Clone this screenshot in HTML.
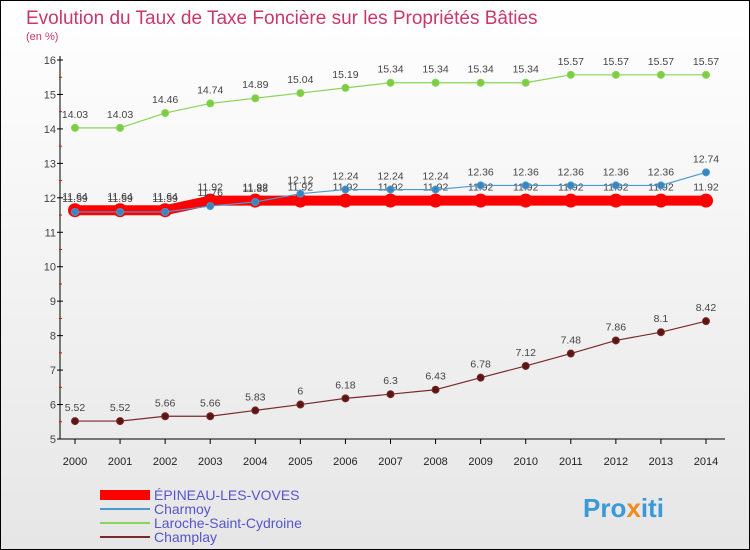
<!DOCTYPE html>
<html><head><meta charset="utf-8"><style>
body{margin:0}
svg{display:block;font-family:"Liberation Sans",sans-serif}
</style></head><body>
<svg width="750" height="550" viewBox="0 0 750 550" id="chart">
<defs><linearGradient id="bg" x1="0" y1="0" x2="0" y2="1"><stop offset="0" stop-color="#ffffff"/><stop offset="1" stop-color="#e6e6e6"/></linearGradient></defs>
<rect x="0.5" y="0.5" width="749" height="549" fill="url(#bg)" stroke="#000"/>
<text x="26" y="24" font-size="19" fill="#c8386b">Evolution du Taux de Taxe Foncière sur les Propriétés Bâties</text>
<text x="26" y="40" font-size="11" fill="#c8386b">(en %)</text>
<g id="axes"></g>
<g id="series"></g>
<g id="legend"></g>
<text x="583" y="517" font-size="26" font-weight="bold" fill="#3a9ad9">Pro<tspan fill="#f08a1c">x</tspan>iti</text>
</svg>
<script>
const years=[2000,2001,2002,2003,2004,2005,2006,2007,2008,2009,2010,2011,2012,2013,2014];
const yTicks=[5,6,7,8,9,10,11,12,13,14,15,16];
const epineau=[11.64,11.64,11.64,11.92,11.92,11.92,11.92,11.92,11.92,11.92,11.92,11.92,11.92,11.92,11.92];
const charmoy=[11.59,11.59,11.59,11.76,11.88,12.12,12.24,12.24,12.24,12.36,12.36,12.36,12.36,12.36,12.74];
const laroche=[14.03,14.03,14.46,14.74,14.89,15.04,15.19,15.34,15.34,15.34,15.34,15.57,15.57,15.57,15.57];
const champlay=[5.52,5.52,5.66,5.66,5.83,6,6.18,6.3,6.43,6.78,7.12,7.48,7.86,8.1,8.42];
const NS="http://www.w3.org/2000/svg";
const X=i=>75+i*(706-75)/14;
const Y=v=>439-(v-5)*(439-60)/11;
function el(p,t,a){const e=document.createElementNS(NS,t);for(const k in a)e.setAttribute(k,a[k]);p.appendChild(e);return e;}
const ax=document.getElementById('axes');
const yl=el(ax,'line',{x1:60,y1:56,x2:60,y2:439,stroke:'#000'});


const xl=el(ax,'line',{x1:60,y1:439,x2:725,y2:439,stroke:'#000'});


yTicks.forEach(v=>{
 el(ax,'line',{x1:57,y1:Y(v),x2:63,y2:Y(v),stroke:'#000'});
 if(v<16)el(ax,'line',{x1:59,y1:Y(v+0.5),x2:62,y2:Y(v+0.5),stroke:'#e00'});
 const t=el(ax,'text',{x:56,y:Y(v)+4,'font-size':11,'text-anchor':'end',fill:'#444'});
 t.textContent=v;
 
 
});
years.forEach((y,i)=>{
 el(ax,'line',{x1:X(i),y1:439,x2:X(i),y2:444,stroke:'#000'});
 const t=el(ax,'text',{x:X(i),y:465,'font-size':11,'text-anchor':'middle',fill:'#222'});
 t.textContent=y;
 
 
});
const sg=document.getElementById('series');
function draw(name,vals,color,w,r,mark,labelDy){
 const g=el(sg,'g',{});
 
 
 el(g,'polyline',{points:vals.map((v,i)=>X(i)+','+Y(v)).join(' '),fill:'none',stroke:color,'stroke-width':w,'stroke-linejoin':'round'});
 vals.forEach((v,i)=>{
  const c=el(g,'circle',{cx:X(i),cy:Y(v),r:r,fill:mark,stroke:color,'stroke-width':1});
  
  
  const t=el(g,'text',{x:X(i),y:Y(v)+labelDy,'font-size':10.5,'text-anchor':'middle',fill:'#444'});
  t.textContent=v;
  
  
 });
}
draw('epineau',epineau,'#f00',10,6.5,'#f00',-10);
draw('charmoy',charmoy,'#4a9ad0',1.2,3.5,'#3a84c0',-10);
draw('laroche',laroche,'#8ad45a',1.2,3.5,'#7ccd40',-10);
draw('champlay',champlay,'#7a2a2a',1.2,3.5,'#5a1515',-10);
const lg=document.getElementById('legend');
[['ÉPINEAU-LES-VOVES','#f00',10],['Charmoy','#4a9ad0',2],['Laroche-Saint-Cydroine','#8ad45a',2],['Champlay','#7a2a2a',2]].forEach((d,i)=>{
 const y=495+i*14;
 const g=el(lg,'g',{});
 
 
 el(g,'line',{x1:100,y1:y,x2:150,y2:y,stroke:d[1],'stroke-width':d[2]});
 const t=el(g,'text',{x:154,y:y+5,'font-size':14,fill:'#5555cc'});
 t.textContent=d[0];
});
</script>
</body></html>
